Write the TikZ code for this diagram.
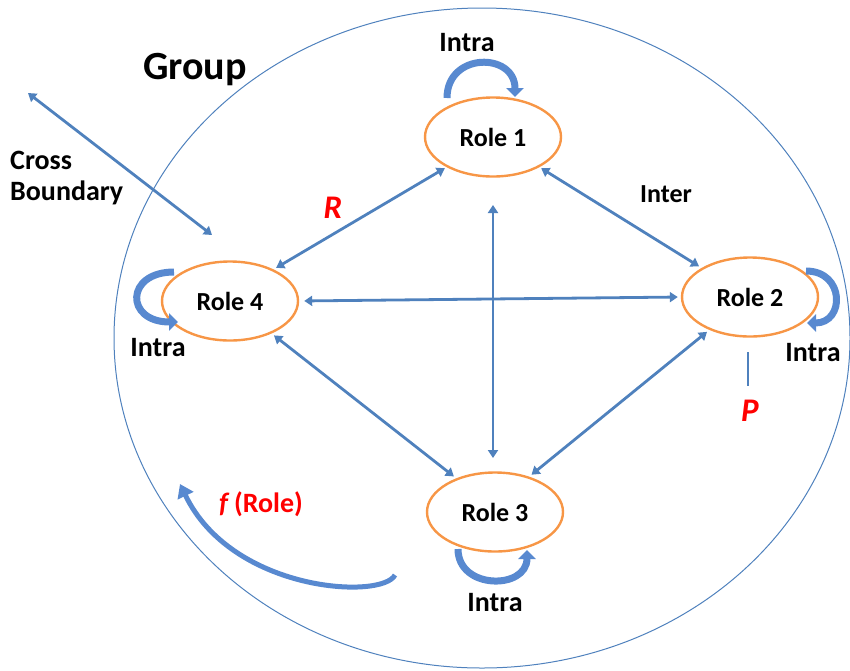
\documentclass[tikz,border=0pt]{standalone}
\usepackage{fontspec}
\setmainfont{Carlito}
\usetikzlibrary{shapes.geometric,arrows.meta}
\definecolor{linkblue}{RGB}{79,129,189}
\definecolor{loopblue}{RGB}{88,137,208}
\definecolor{roleorange}{RGB}{247,150,70}
\definecolor{labelred}{RGB}{255,0,0}
\tikzset{
  role/.style={ellipse, draw=roleorange, line width=2.4pt, minimum width=136pt,
    minimum height=79pt, inner sep=0pt, font=\fontsize{26}{30}\selectfont\bfseries},
  link/.style={draw=linkblue, line width=2.8pt,
    {Triangle[length=8pt,width=10pt]}-{Triangle[length=8pt,width=10pt]}},
  selfloop/.style={draw=loopblue, line width=7pt,
    -{Triangle[length=9pt,width=17pt]}},
  lbl/.style={font=\fontsize{28}{32}\selectfont\bfseries, inner sep=0pt},
  redlbl/.style={text=labelred, font=\fontsize{33}{37}\selectfont\bfseries\itshape, inner sep=0pt}
}
\begin{document}
\begin{tikzpicture}[x=1pt,y=-1pt]
\useasboundingbox (0,0) rectangle (850,670);
% group boundary
\draw[linkblue, line width=1pt] (482,338) ellipse [x radius=368, y radius=330];
\node[font=\fontsize{40}{45}\selectfont\bfseries, inner sep=0pt] (group) at (195,70) {Group};

% roles
\node[role] (r1) at (493,137) {Role 1};
\node[role] (r2) at (750,297) {Role 2};
\node[role] (r3) at (495,512) {Role 3};
\node[role] (r4) at (230,301) {Role 4};

% links between roles
\draw[link, shorten <=2pt, shorten >=3pt] (r1.213) -- (r4.36);
\draw[link, shorten <=2pt, shorten >=3pt] (r1.-33) -- (r2.149);
\draw[link, shorten <=5pt, shorten >=3pt] (r4.east) -- (r2.west);
\draw[link, shorten <=3pt, shorten >=3pt] (r4.-38) -- (r3.139);
\draw[link, shorten <=3pt, shorten >=3pt] (r2.-141) -- (r3.46);
\coordinate (vtop) at (493,205);
\coordinate (vbot) at (493,458);
\draw[link] (vtop) -- (vbot);

% crossing the group boundary
\coordinate (cbout) at (28,93);
\coordinate (cbin) at (212,235);
\draw[link] (cbout) -- (cbin);

% parameter marker
\coordinate (ptop) at (748,352);
\coordinate (pbot) at (748,386);
\draw[linkblue, line width=2.8pt] (ptop) -- (pbot);

% self loops
\draw[selfloop] (447,98) .. controls (447,52) and (515,52) .. (515,97);
\draw[selfloop] (174,272) .. controls (125,272) and (125,322) .. (178,322);
\draw[selfloop] (806,271) .. controls (845,271) and (845,323) .. (807,323);
\draw[selfloop] (458,549) .. controls (458,590) and (527,590) .. (527,550);

% role function arrow
\draw[draw=loopblue, line width=5pt, -{Triangle[length=13pt,width=17pt]}]
  (395,575) .. controls (382,600) and (232,592) .. (180,484);

% labels
\node[lbl] (intra1) at (467,43) {Intra};
\node[lbl] (intra4) at (158,348) {Intra};
\node[lbl] (intra2) at (813,353) {Intra};
\node[lbl] (intra3) at (495,603) {Intra};
\node[lbl, font=\fontsize{26}{30}\selectfont\bfseries] (inter) at (666,194) {Inter};
\node[lbl, align=left, anchor=west] (cross) at (10,178) {Cross\\[-1pt]Boundary};
\node[redlbl] (rlbl) at (333,208) {R};
\node[redlbl] (plbl) at (750,411) {P};
\node[text=labelred, font=\fontsize{28}{32}\selectfont\bfseries, inner sep=0pt] (frole) at (261,504) {\textit{f}\,(Role)};
\end{tikzpicture}
\end{document}
